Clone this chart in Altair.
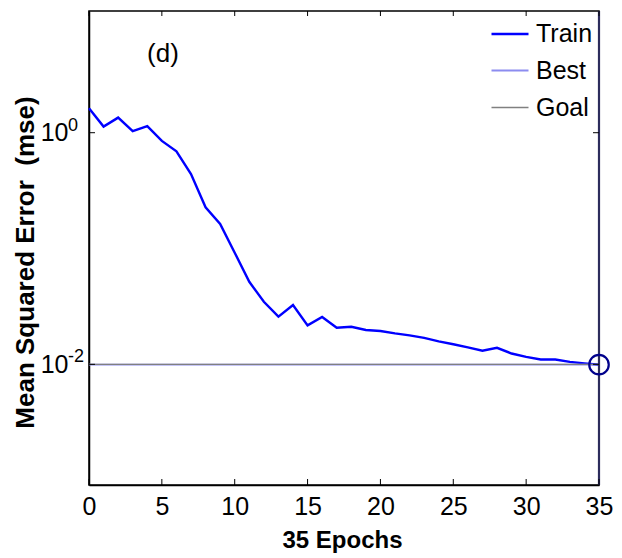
import altair as alt
import pandas as pd

# ---- data ----
epochs = list(range(36))
train_mse = [1.63, 1.13, 1.35, 1.03, 1.14, 0.85, 0.69, 0.44, 0.227, 0.163,
             0.092, 0.0516, 0.0347, 0.0258, 0.0325, 0.0217, 0.0256, 0.0207, 0.0211, 0.0198,
             0.0194, 0.0185, 0.0178, 0.0169, 0.0158, 0.0149, 0.0140, 0.0131, 0.0139, 0.0124,
             0.0116, 0.0110, 0.0110, 0.0105, 0.0102, 0.00993]
goal = 0.01
best_epoch = 35
best_value = 0.00993
x_ticks = [0, 5, 10, 15, 20, 25, 30, 35]
y_ticks = [1, 0.01]
y_exponents = ["0", "-2"]
series_names = ["Train", "Best", "Goal"]
series_colors = ["#0000FF", "#8C8CF0", "#808080"]
series_widths = [2.4, 1.3, 1.3]

FONT = "Liberation Sans, Arial"

rows = [{"epoch": e, "mse": v, "series": "Train"} for e, v in zip(epochs, train_mse)]
rows += [{"epoch": epochs[0], "mse": best_value, "series": "Best"},
         {"epoch": epochs[-1], "mse": best_value, "series": "Best"}]
rows += [{"epoch": epochs[0], "mse": goal, "series": "Goal"},
         {"epoch": epochs[-1], "mse": goal, "series": "Goal"}]
lines_df = pd.DataFrame(rows)

xscale = alt.Scale(domain=[0, 35], nice=False, zero=False)
yscale = alt.Scale(type="log", domain=[10 ** -3.042, 10 ** 1.051], nice=False)

xaxis = alt.Axis(values=x_ticks, title="35 Epochs", grid=False, tickSize=0,
                 labelFont=FONT, labelFontSize=25, labelColor="black", labelPadding=9,
                 labelFlush=False,
                 titleFont=FONT, titleFontSize=24, titleFontWeight="bold", titleColor="black",
                 titleX=253, titleY=62, titleBaseline="alphabetic",
                 domainColor="black", domainWidth=1.5)
yaxis = alt.Axis(values=y_ticks, labelExpr="'10'",
                 title="Mean Squared Error\u00a0 (mse)",
                 grid=False, tickSize=0,
                 labelFont=FONT, labelFontSize=25, labelColor="black", labelPadding=21,
                 labelBaseline="middle",
                 titleFont=FONT, titleFontSize=26, titleFontWeight="bold", titleColor="black",
                 titleAngle=270, titleX=-64, titleY=251, titleBaseline="middle",
                 titleAlign="center",
                 domainColor="black", domainWidth=1.5)

X = alt.X("epoch:Q", scale=xscale, axis=xaxis)
Y = alt.Y("mse:Q", scale=yscale, axis=yaxis)

def make_legend():
    return alt.Legend(title=None, orient="none", legendX=401, legendY=3,
                      symbolType="stroke", symbolSize=1369,
                      labelFont=FONT, labelFontSize=25, labelColor="black",
                      labelOffset=6, rowPadding=4, padding=0)

enc = dict(
    x=X, y=Y,
    color=alt.Color("series:N", scale=alt.Scale(domain=series_names, range=series_colors),
                    legend=make_legend()),
    strokeWidth=alt.StrokeWidth("series:N",
                                scale=alt.Scale(domain=series_names, range=series_widths),
                                legend=make_legend()),
    order=alt.Order("epoch:Q"),
)
lines_main = alt.Chart(lines_df).mark_line().encode(**enc).transform_filter(
    alt.datum.series != "Goal")
lines_goal = alt.Chart(lines_df).mark_line().encode(**enc).transform_filter(
    alt.datum.series == "Goal")

best_df = pd.DataFrame({"epoch": [best_epoch], "mse": [best_value]})
vline = alt.Chart(best_df).mark_rule(color="#2C2C5C", strokeWidth=2.2).encode(x=X)
circle = alt.Chart(best_df).mark_point(shape="circle", filled=False, size=380, opacity=1,
                                        color="#00008B", strokeWidth=2.2).encode(x=X, y=Y)

exp_df = pd.DataFrame({"epoch": [0, 0], "mse": y_ticks, "exp": y_exponents})
exps = alt.Chart(exp_df).mark_text(font=FONT, fontSize=18, align="left",
                                   baseline="alphabetic", dx=-21, dy=-2,
                                   color="black").encode(x=X, y=Y, text="exp:N")

xt_df = pd.DataFrame({"epoch": x_ticks})
yt_df = pd.DataFrame({"mse": y_ticks})
bottom_ticks = alt.Chart(xt_df).mark_rule(color="black", strokeWidth=1).encode(
    x=X, y=alt.value(474), y2=alt.value(468))
top_ticks = alt.Chart(xt_df).mark_rule(color="black", strokeWidth=1).encode(
    x=X, y=alt.value(0), y2=alt.value(5))
left_ticks = alt.Chart(yt_df).mark_rule(color="black", strokeWidth=1).encode(
    y=Y, x=alt.value(0), x2=alt.value(6))
right_ticks = alt.Chart(yt_df).mark_rule(color="black", strokeWidth=1).encode(
    y=Y, x=alt.value(510), x2=alt.value(504))

label = alt.Chart(pd.DataFrame({"t": ["(d)"]})).mark_text(
    font=FONT, fontSize=26, align="center", baseline="middle", color="black"
).encode(x=alt.value(74), y=alt.value(43), text="t:N")

chart = alt.layer(
    lines_main, lines_goal, vline, circle, exps,
    bottom_ticks, top_ticks, left_ticks, right_ticks, label
).properties(
    width=510, height=474,
    autosize=alt.AutoSizeParams(type="none"),
    padding={"left": 89, "top": 11, "right": 23, "bottom": 73},
    background="white",
).configure_view(stroke="black", strokeWidth=1.5)

chart.save("out.html", embed_options={"renderer": "svg", "actions": False})
